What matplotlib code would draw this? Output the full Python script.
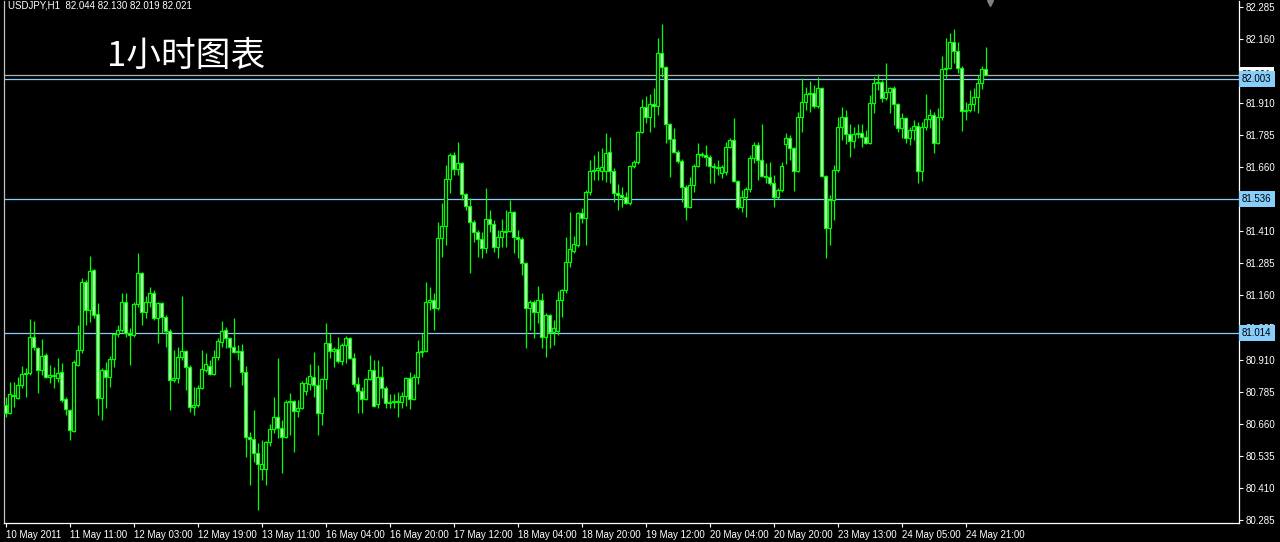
import matplotlib
matplotlib.use('Agg')
import matplotlib.pyplot as plt
import numpy as np

plt.rcParams['font.family'] = ['Liberation Sans', 'DejaVu Sans']

# USDJPY H1 candles (oldest first)
opens = [
    80.733, 80.701, 80.772, 80.760, 80.811, 80.853, 80.857, 80.998, 80.955, 80.869,
    80.928, 80.842, 80.850, 80.838, 80.861, 80.756, 80.713, 80.631, 80.889, 80.947,
    81.212, 81.103, 81.259, 81.087, 80.760, 80.869, 80.842, 80.912, 81.009, 81.025,
    81.134, 81.013, 81.006, 81.126, 81.247, 81.095, 81.134, 81.169, 81.072, 81.130,
    81.076, 81.021, 80.830, 80.838, 80.920, 80.943, 80.881, 80.725, 80.733, 80.799,
    80.869, 80.885, 80.853, 80.920, 80.978, 81.025, 80.994, 80.959, 80.939, 80.943,
    80.861, 80.608, 80.600, 80.545, 80.483, 80.483, 80.588, 80.639, 80.686, 80.643,
    80.608, 80.744, 80.748, 80.709, 80.721, 80.787, 80.814, 80.842, 80.811, 80.701,
    80.834, 80.974, 80.943, 80.951, 80.904, 80.967, 80.994, 80.916, 80.814, 80.787,
    80.756, 80.834, 80.869, 80.736, 80.842, 80.799, 80.740, 80.744, 80.748, 80.744,
    80.768, 80.838, 80.756, 80.842, 80.939, 80.943, 81.134, 81.142, 81.111, 81.384,
    81.431, 81.614, 81.708, 81.653, 81.676, 81.555, 81.509, 81.446, 81.407, 81.380,
    81.345, 81.458, 81.438, 81.349, 81.388, 81.411, 81.411, 81.485, 81.388, 81.380,
    81.286, 81.111, 81.134, 81.095, 81.142, 80.998, 81.084, 81.017, 81.021, 81.142,
    81.181, 81.290, 81.333, 81.357, 81.481, 81.462, 81.563, 81.645, 81.649, 81.645,
    81.645, 81.719, 81.645, 81.559, 81.552, 81.544, 81.520, 81.665, 81.680, 81.797,
    81.895, 81.856, 81.906, 81.899, 82.105, 82.051, 81.828, 81.770, 81.719, 81.684,
    81.583, 81.505, 81.591, 81.665, 81.711, 81.708, 81.700, 81.665, 81.661, 81.637,
    81.641, 81.739, 81.766, 81.606, 81.505, 81.544, 81.575, 81.696, 81.747, 81.688,
    81.626, 81.622, 81.598, 81.544, 81.571, 81.750, 81.774, 81.735, 81.645, 81.856,
    81.914, 81.945, 81.949, 81.899, 81.969, 81.626, 81.423, 81.532, 81.649, 81.817,
    81.856, 81.789, 81.762, 81.789, 81.793, 81.778, 81.754, 81.910, 81.988, 81.992,
    81.930, 81.953, 81.969, 81.906, 81.813, 81.852, 81.774, 81.805, 81.821, 81.645,
    81.817, 81.848, 81.864, 81.754, 81.856, 82.043, 82.047, 82.148, 82.113, 82.047,
    81.879, 81.883, 81.906, 81.934, 81.988, 82.044,
]
highs = [
    80.764, 80.822, 80.822, 80.842, 80.885, 80.877, 81.068, 81.060, 80.959, 80.990,
    80.935, 80.889, 80.881, 80.916, 80.896, 80.764, 80.717, 80.908, 81.045, 81.228,
    81.220, 81.314, 81.263, 81.130, 80.877, 80.900, 80.924, 81.013, 81.045, 81.169,
    81.169, 81.033, 81.134, 81.325, 81.251, 81.158, 81.193, 81.181, 81.134, 81.134,
    81.084, 81.029, 80.947, 80.959, 81.158, 80.947, 80.889, 80.803, 80.811, 80.947,
    80.935, 80.908, 80.947, 80.994, 81.060, 81.037, 80.998, 81.072, 80.967, 80.970,
    80.885, 80.627, 80.713, 80.584, 80.596, 80.592, 80.658, 80.764, 80.916, 80.674,
    80.752, 80.779, 80.752, 80.752, 80.826, 80.842, 80.892, 80.939, 80.889, 80.838,
    81.052, 81.013, 80.959, 80.998, 80.974, 81.002, 80.998, 80.935, 80.842, 80.803,
    80.838, 80.928, 80.908, 80.908, 80.885, 80.807, 80.775, 80.775, 80.783, 80.783,
    80.842, 80.861, 80.853, 80.986, 81.013, 81.212, 81.193, 81.169, 81.446, 81.520,
    81.669, 81.715, 81.719, 81.758, 81.680, 81.559, 81.540, 81.454, 81.415, 81.407,
    81.579, 81.493, 81.454, 81.415, 81.458, 81.493, 81.532, 81.489, 81.415, 81.388,
    81.290, 81.142, 81.142, 81.197, 81.169, 81.091, 81.087, 81.064, 81.177, 81.185,
    81.388, 81.485, 81.392, 81.485, 81.501, 81.571, 81.688, 81.708, 81.723, 81.735,
    81.793, 81.778, 81.657, 81.594, 81.583, 81.563, 81.669, 81.688, 81.801, 81.926,
    81.938, 81.945, 81.969, 82.164, 82.218, 82.055, 81.832, 81.813, 81.727, 81.692,
    81.591, 81.622, 81.672, 81.754, 81.719, 81.747, 81.708, 81.676, 81.688, 81.669,
    81.758, 81.774, 81.852, 81.610, 81.571, 81.583, 81.708, 81.758, 81.758, 81.828,
    81.676, 81.680, 81.630, 81.579, 81.680, 81.793, 81.786, 81.739, 81.875, 82.008,
    81.973, 81.996, 81.981, 82.012, 81.973, 81.630, 81.552, 81.669, 81.856, 81.895,
    81.883, 81.828, 81.817, 81.828, 81.828, 81.805, 81.942, 82.012, 82.023, 82.000,
    82.066, 81.973, 81.977, 81.910, 81.871, 81.856, 81.817, 81.844, 81.836, 81.836,
    81.945, 81.887, 81.875, 81.891, 82.094, 82.164, 82.183, 82.199, 82.148, 82.055,
    81.914, 81.961, 81.969, 82.020, 82.055, 82.130,
]
lows = [
    80.686, 80.698, 80.725, 80.756, 80.799, 80.764, 80.850, 80.947, 80.779, 80.850,
    80.838, 80.818, 80.799, 80.822, 80.744, 80.694, 80.596, 80.627, 80.885, 80.935,
    81.045, 81.056, 81.072, 80.694, 80.674, 80.721, 80.803, 80.881, 80.998, 81.017,
    80.998, 80.889, 80.998, 81.115, 81.045, 81.072, 81.115, 81.064, 80.974, 81.013,
    80.959, 80.713, 80.822, 80.818, 80.908, 80.791, 80.705, 80.694, 80.725, 80.795,
    80.861, 80.850, 80.850, 80.908, 80.959, 80.955, 80.803, 80.935, 80.908, 80.811,
    80.530, 80.421, 80.510, 80.323, 80.440, 80.421, 80.573, 80.623, 80.604, 80.467,
    80.604, 80.616, 80.549, 80.686, 80.717, 80.772, 80.791, 80.764, 80.616, 80.655,
    80.795, 80.916, 80.881, 80.896, 80.889, 80.896, 80.912, 80.803, 80.701, 80.701,
    80.752, 80.830, 80.725, 80.721, 80.760, 80.721, 80.721, 80.721, 80.686, 80.721,
    80.729, 80.717, 80.752, 80.814, 80.920, 80.939, 81.103, 81.025, 81.103, 81.310,
    81.357, 81.559, 81.630, 81.630, 81.532, 81.493, 81.247, 81.368, 81.310, 81.306,
    81.325, 81.407, 81.329, 81.306, 81.349, 81.349, 81.407, 81.325, 81.306, 81.240,
    80.955, 81.025, 80.994, 81.052, 80.955, 80.920, 80.955, 80.967, 81.006, 81.076,
    81.169, 81.271, 81.325, 81.349, 81.442, 81.357, 81.552, 81.610, 81.610, 81.610,
    81.602, 81.598, 81.524, 81.493, 81.505, 81.516, 81.513, 81.657, 81.672, 81.793,
    81.832, 81.797, 81.817, 81.864, 82.012, 81.754, 81.622, 81.715, 81.676, 81.524,
    81.454, 81.501, 81.563, 81.661, 81.700, 81.665, 81.598, 81.598, 81.630, 81.618,
    81.630, 81.735, 81.602, 81.497, 81.485, 81.466, 81.563, 81.676, 81.610, 81.622,
    81.598, 81.591, 81.505, 81.536, 81.563, 81.672, 81.688, 81.567, 81.641, 81.797,
    81.883, 81.875, 81.891, 81.891, 81.622, 81.306, 81.357, 81.454, 81.641, 81.766,
    81.750, 81.700, 81.735, 81.774, 81.739, 81.750, 81.750, 81.871, 81.961, 81.914,
    81.922, 81.871, 81.825, 81.797, 81.774, 81.754, 81.747, 81.766, 81.598, 81.606,
    81.805, 81.813, 81.715, 81.750, 81.844, 82.008, 82.043, 82.066, 82.027, 81.801,
    81.844, 81.875, 81.879, 81.871, 81.965, 82.019,
]
closes = [
    80.701, 80.775, 80.768, 80.811, 80.853, 80.857, 80.998, 80.959, 80.869, 80.924,
    80.842, 80.850, 80.846, 80.857, 80.752, 80.717, 80.635, 80.900, 80.947, 81.212,
    81.103, 81.255, 81.084, 80.760, 80.869, 80.842, 80.912, 81.009, 81.025, 81.134,
    81.013, 81.006, 81.126, 81.247, 81.095, 81.134, 81.169, 81.072, 81.130, 81.076,
    81.021, 80.830, 80.838, 80.920, 80.943, 80.881, 80.725, 80.733, 80.799, 80.873,
    80.892, 80.853, 80.920, 80.982, 81.021, 80.994, 80.959, 80.939, 80.943, 80.861,
    80.608, 80.600, 80.545, 80.502, 80.502, 80.588, 80.639, 80.686, 80.643, 80.608,
    80.744, 80.748, 80.709, 80.721, 80.818, 80.818, 80.846, 80.811, 80.701, 80.834,
    80.974, 80.943, 80.951, 80.904, 80.967, 80.994, 80.916, 80.814, 80.787, 80.756,
    80.834, 80.869, 80.729, 80.842, 80.799, 80.740, 80.744, 80.748, 80.744, 80.768,
    80.838, 80.756, 80.842, 80.939, 80.943, 81.134, 81.142, 81.111, 81.384, 81.431,
    81.614, 81.708, 81.653, 81.676, 81.555, 81.509, 81.446, 81.407, 81.380, 81.345,
    81.458, 81.438, 81.349, 81.388, 81.411, 81.407, 81.485, 81.388, 81.380, 81.286,
    81.111, 81.134, 81.095, 81.142, 80.998, 81.084, 81.017, 81.033, 81.142, 81.181,
    81.290, 81.341, 81.360, 81.481, 81.462, 81.563, 81.645, 81.649, 81.657, 81.661,
    81.715, 81.645, 81.559, 81.552, 81.544, 81.520, 81.665, 81.680, 81.797, 81.895,
    81.856, 81.906, 81.899, 82.105, 82.051, 81.828, 81.770, 81.719, 81.684, 81.583,
    81.505, 81.591, 81.665, 81.711, 81.708, 81.700, 81.665, 81.661, 81.657, 81.661,
    81.739, 81.766, 81.606, 81.505, 81.544, 81.575, 81.696, 81.747, 81.688, 81.626,
    81.622, 81.598, 81.544, 81.571, 81.665, 81.774, 81.735, 81.645, 81.856, 81.914,
    81.945, 81.949, 81.899, 81.969, 81.626, 81.423, 81.532, 81.649, 81.817, 81.856,
    81.789, 81.762, 81.789, 81.793, 81.778, 81.754, 81.910, 81.988, 81.992, 81.930,
    81.953, 81.969, 81.906, 81.813, 81.852, 81.774, 81.805, 81.821, 81.645, 81.817,
    81.848, 81.864, 81.754, 81.856, 82.043, 82.047, 82.148, 82.113, 82.047, 81.879,
    81.883, 81.906, 81.934, 81.988, 82.043, 82.021,
]

time_labels = ['10 May 2011', '11 May 11:00', '12 May 03:00', '12 May 19:00',
               '13 May 11:00', '16 May 04:00', '16 May 20:00', '17 May 12:00',
               '18 May 04:00', '18 May 20:00', '19 May 12:00', '20 May 04:00',
               '20 May 20:00', '23 May 13:00', '24 May 05:00', '24 May 21:00']
label_bars = [0, 16, 32, 48, 64, 80, 96, 112, 128, 144, 160, 176, 192, 208, 224, 240]
price_ticks = [82.285, 82.160, 82.035, 81.910, 81.785, 81.660, 81.535, 81.410, 81.285,
               81.160, 81.035, 80.910, 80.785, 80.660, 80.535, 80.410, 80.285]
levels = [82.003, 81.536, 81.014]
bid = 82.021
header = 'USDJPY,H1  82.044 82.130 82.019 82.021'
title = '1小时图表'

GREEN = '#00ff00'
LEVEL = '#87cefa'

fig = plt.figure(figsize=(12.8, 5.42), dpi=100, facecolor='black')
ax = fig.add_axes([4 / 1280, 19 / 542, 1235 / 1280, 522 / 542], facecolor='black')

x = np.arange(len(closes))
o = np.array(opens)
c = np.array(closes)
bull = c >= o

# wicks, then bodies (black for up bars, white for down bars)
ax.vlines(x, lows, highs, color=GREEN, linewidth=0.9, zorder=2)
bottoms = np.minimum(o, c)
heights = np.maximum(np.abs(c - o), 0.001)
faces = ['black' if b else '#e8ffe8' for b in bull]
ax.bar(x, heights, bottom=bottoms, width=0.74, color=faces,
       edgecolor=GREEN, linewidth=0.9, zorder=3)

# horizontal levels
for lv in levels:
    ax.axhline(lv, color=LEVEL, linewidth=0.9, zorder=1)
ax.axhline(bid, color='#b0b0b0', linewidth=0.9, zorder=1)

ax.set_xlim(-0.425, 308.3)
ax.set_ylim(80.2726, 82.3084)

# 81.535 sits fully under the 81.536 tag, so its label is not shown
ax.yaxis.tick_right()
ax.set_yticks(price_ticks)
ax.set_yticklabels(['' if abs(p - 81.535) < 1e-6 else f'{p:.3f}' for p in price_ticks])
ax.tick_params(axis='y', colors='white', length=3, width=0.8, labelsize=7, pad=1.5)
ax.set_xticks(label_bars)
ax.set_xticklabels(time_labels)
for lbl in ax.get_xticklabels():
    lbl.set_horizontalalignment('left')
ax.tick_params(axis='x', colors='white', length=3, width=0.8, labelsize=7, pad=2)

for side in ['left', 'right', 'bottom']:
    ax.spines[side].set_color('white')
    ax.spines[side].set_linewidth(0.9)
ax.spines['left'].set_color('#c0c0c0')
ax.spines['top'].set_visible(False)

# price tags on the right scale
tr = ax.get_yaxis_transform()
ax.text(1.002, bid, f'{bid:.3f}', transform=tr, fontsize=7, color='black',
        va='center', ha='left', clip_on=False, zorder=5,
        bbox=dict(boxstyle='square,pad=0.3', fc='white', ec='none'))
for lv in levels:
    ax.text(1.0025, lv, f'{lv:.3f}', transform=tr, fontsize=7, color='black',
            va='center', ha='left', clip_on=False, zorder=6,
            bbox=dict(boxstyle='square,pad=0.3', fc=LEVEL, ec='none'))

fig.text(8 / 1280, 1 - 5 / 542, header, color='white', fontsize=7, va='center', ha='left')
fig.text(107 / 1280, 1 - 56 / 542, title, color='white', fontsize=25, va='center', ha='left',
         family=['Noto Sans CJK SC', 'DejaVu Sans'])

# chart shift marker
fig.lines.append(plt.Line2D([990 / 1280], [1 - 3 / 542], marker='v', color='#808080',
                            markersize=5, linestyle='none', transform=fig.transFigure))

fig.savefig('out.png', dpi=100, facecolor='black')
plt.close(fig)
